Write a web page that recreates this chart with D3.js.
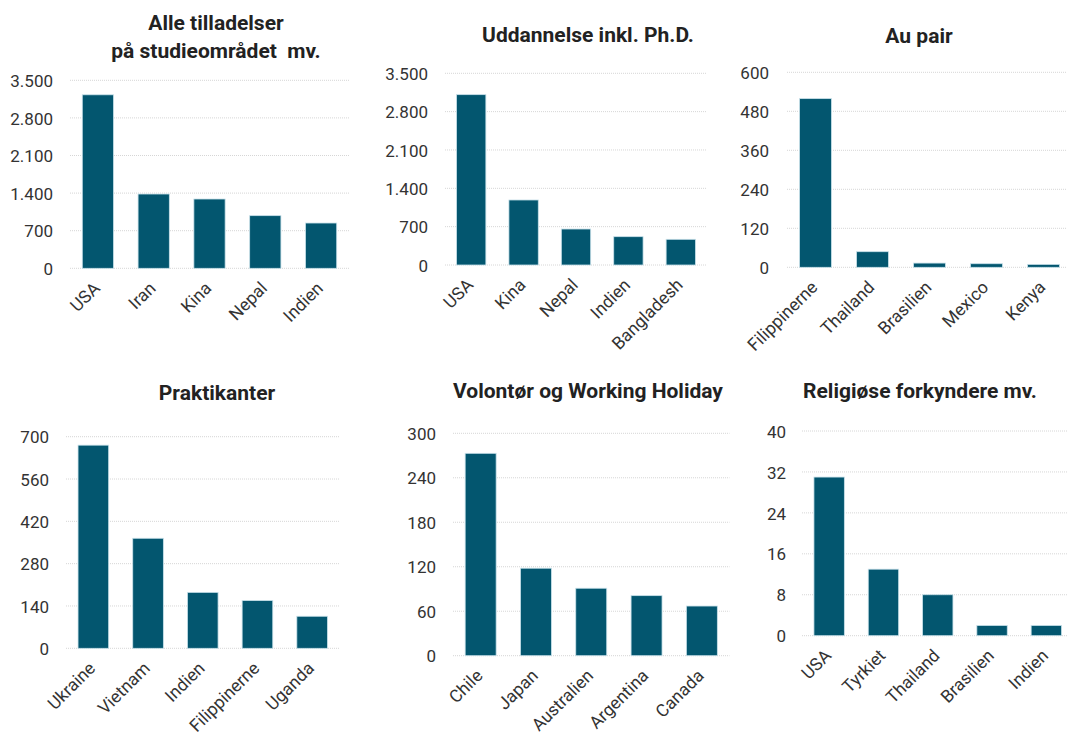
<!DOCTYPE html>
<html>
<head>
<meta charset="utf-8">
<script src="https://cdn.jsdelivr.net/npm/d3@7/dist/d3.min.js"></script>
<style>
  html, body { margin: 0; padding: 0; background: #ffffff; }
  svg { display: block; }
</style>
</head>
<body>
<svg id="chart" width="1067" height="732"></svg>
<script>
// ---------- DATA ----------
const titles = [
  ["Alle tilladelser", "på studieområdet  mv."],
  ["Uddannelse inkl. Ph.D."],
  ["Au pair"],
  ["Praktikanter"],
  ["Volontør og Working Holiday"],
  ["Religiøse forkyndere mv."]
];
const cats1 = ["USA", "Iran", "Kina", "Nepal", "Indien"];
const vals1 = [3230, 1383, 1290, 980, 843];
const ticks1 = [0, 700, 1400, 2100, 2800, 3500];

const cats2 = ["USA", "Kina", "Nepal", "Indien", "Bangladesh"];
const vals2 = [3110, 1187, 657, 517, 469];
const ticks2 = [0, 700, 1400, 2100, 2800, 3500];

const cats3 = ["Filippinerne", "Thailand", "Brasilien", "Mexico", "Kenya"];
const vals3 = [519, 48, 13, 11, 9];
const ticks3 = [0, 120, 240, 360, 480, 600];

const cats4 = ["Ukraine", "Vietnam", "Indien", "Filippinerne", "Uganda"];
const vals4 = [672, 364, 185, 158, 106];
const ticks4 = [0, 140, 280, 420, 560, 700];

const cats5 = ["Chile", "Japan", "Australien", "Argentina", "Canada"];
const vals5 = [273, 118, 91, 81, 67];
const ticks5 = [0, 60, 120, 180, 240, 300];

const cats6 = ["USA", "Tyrkiet", "Thailand", "Brasilien", "Indien"];
const vals6 = [31, 13, 8, 2, 2];
const ticks6 = [0, 8, 16, 24, 32, 40];

const allCats = [cats1, cats2, cats3, cats4, cats5, cats6];
const allVals = [vals1, vals2, vals3, vals4, vals5, vals6];
const allTicks = [ticks1, ticks2, ticks3, ticks4, ticks5, ticks6];

// ---------- LAYOUT ----------
const layout = [
  { x0: 70,  x1: 349,  yTop: 80.3, yBot: 268.3, tickX: 53,  titleX: 216, titleY: [30, 58] },
  { x0: 445, x1: 707,  yTop: 73.3, yBot: 265,   tickX: 428, titleX: 588, titleY: [42] },
  { x0: 787, x1: 1072, yTop: 72.3, yBot: 267.3, tickX: 769, titleX: 919, titleY: [43] },
  { x0: 66,  x1: 339.5,yTop: 436.7,yBot: 648.3, tickX: 49,  titleX: 217, titleY: [400] },
  { x0: 453, x1: 729.5,yTop: 433.3,yBot: 655.7, tickX: 436, titleX: 588, titleY: [398] },
  { x0: 802, x1: 1073.5,yTop: 431, yBot: 635.7, tickX: 786, titleX: 920, titleY: [398] }
];

const barColor = "#03566f";
const fontFam = "Roboto, 'DejaVu Sans', sans-serif";
const locale = d3.formatLocale({ decimal: ",", thousands: ".", grouping: [3], currency: ["", " kr."] });
const fmt = locale.format(",d");

const svg = d3.select("#chart");

layout.forEach((L, i) => {
  const cats = allCats[i], vals = allVals[i], ticks = allTicks[i];
  const g = svg.append("g");

  const x = d3.scaleBand().domain(cats).range([L.x0, L.x1]).paddingInner(0.44).paddingOuter(0.22);
  const y = d3.scaleLinear().domain([0, ticks[ticks.length - 1]]).range([L.yBot, L.yTop]);

  // gridlines
  g.append("g").selectAll("line").data(ticks).join("line")
    .attr("x1", L.x0).attr("x2", Math.min(L.x1, 1067))
    .attr("y1", d => y(d)).attr("y2", d => y(d))
    .attr("stroke", "#d6d6d6").attr("stroke-width", 1)
    .attr("stroke-dasharray", "1,1");

  // y axis
  const yAxis = d3.axisLeft(y).tickValues(ticks).tickFormat(fmt).tickSize(0).tickPadding(0);
  const ya = g.append("g").attr("transform", `translate(${L.tickX},0)`).call(yAxis);
  ya.select(".domain").remove();
  ya.selectAll("text")
    .attr("font-family", fontFam).attr("font-size", 17).attr("fill", "#333333")
    .attr("dy", "0.36em");

  // bars
  g.append("g").selectAll("rect").data(vals).join("rect")
    .attr("x", (d, j) => x(cats[j]))
    .attr("width", x.bandwidth())
    .attr("y", d => y(d))
    .attr("height", d => L.yBot - y(d))
    .attr("fill", barColor)
    .attr("stroke", "#c9e1ea").attr("stroke-width", 0.8);

  // x axis labels
  const xAxis = d3.axisBottom(x).tickSize(0).tickPadding(0);
  const xa = g.append("g").attr("transform", `translate(0,${L.yBot})`).call(xAxis);
  xa.select(".domain").remove();
  xa.selectAll("text")
    .attr("font-family", fontFam).attr("font-size", 17.5).attr("fill", "#333333")
    .attr("text-anchor", "end")
    .attr("dy", null).attr("y", null)
    .attr("transform", "translate(-6,12) rotate(-45)")
    .attr("dominant-baseline", "hanging");

  // title
  L.titleY.forEach((ty, k) => {
    g.append("text")
      .attr("x", L.titleX).attr("y", ty)
      .attr("text-anchor", "middle")
      .attr("font-family", fontFam).attr("font-weight", "bold")
      .attr("font-size", 21).attr("fill", "#222222")
      .style("white-space", "pre")
      .text(titles[i][k]);
  });
});
</script>
</body>
</html>
